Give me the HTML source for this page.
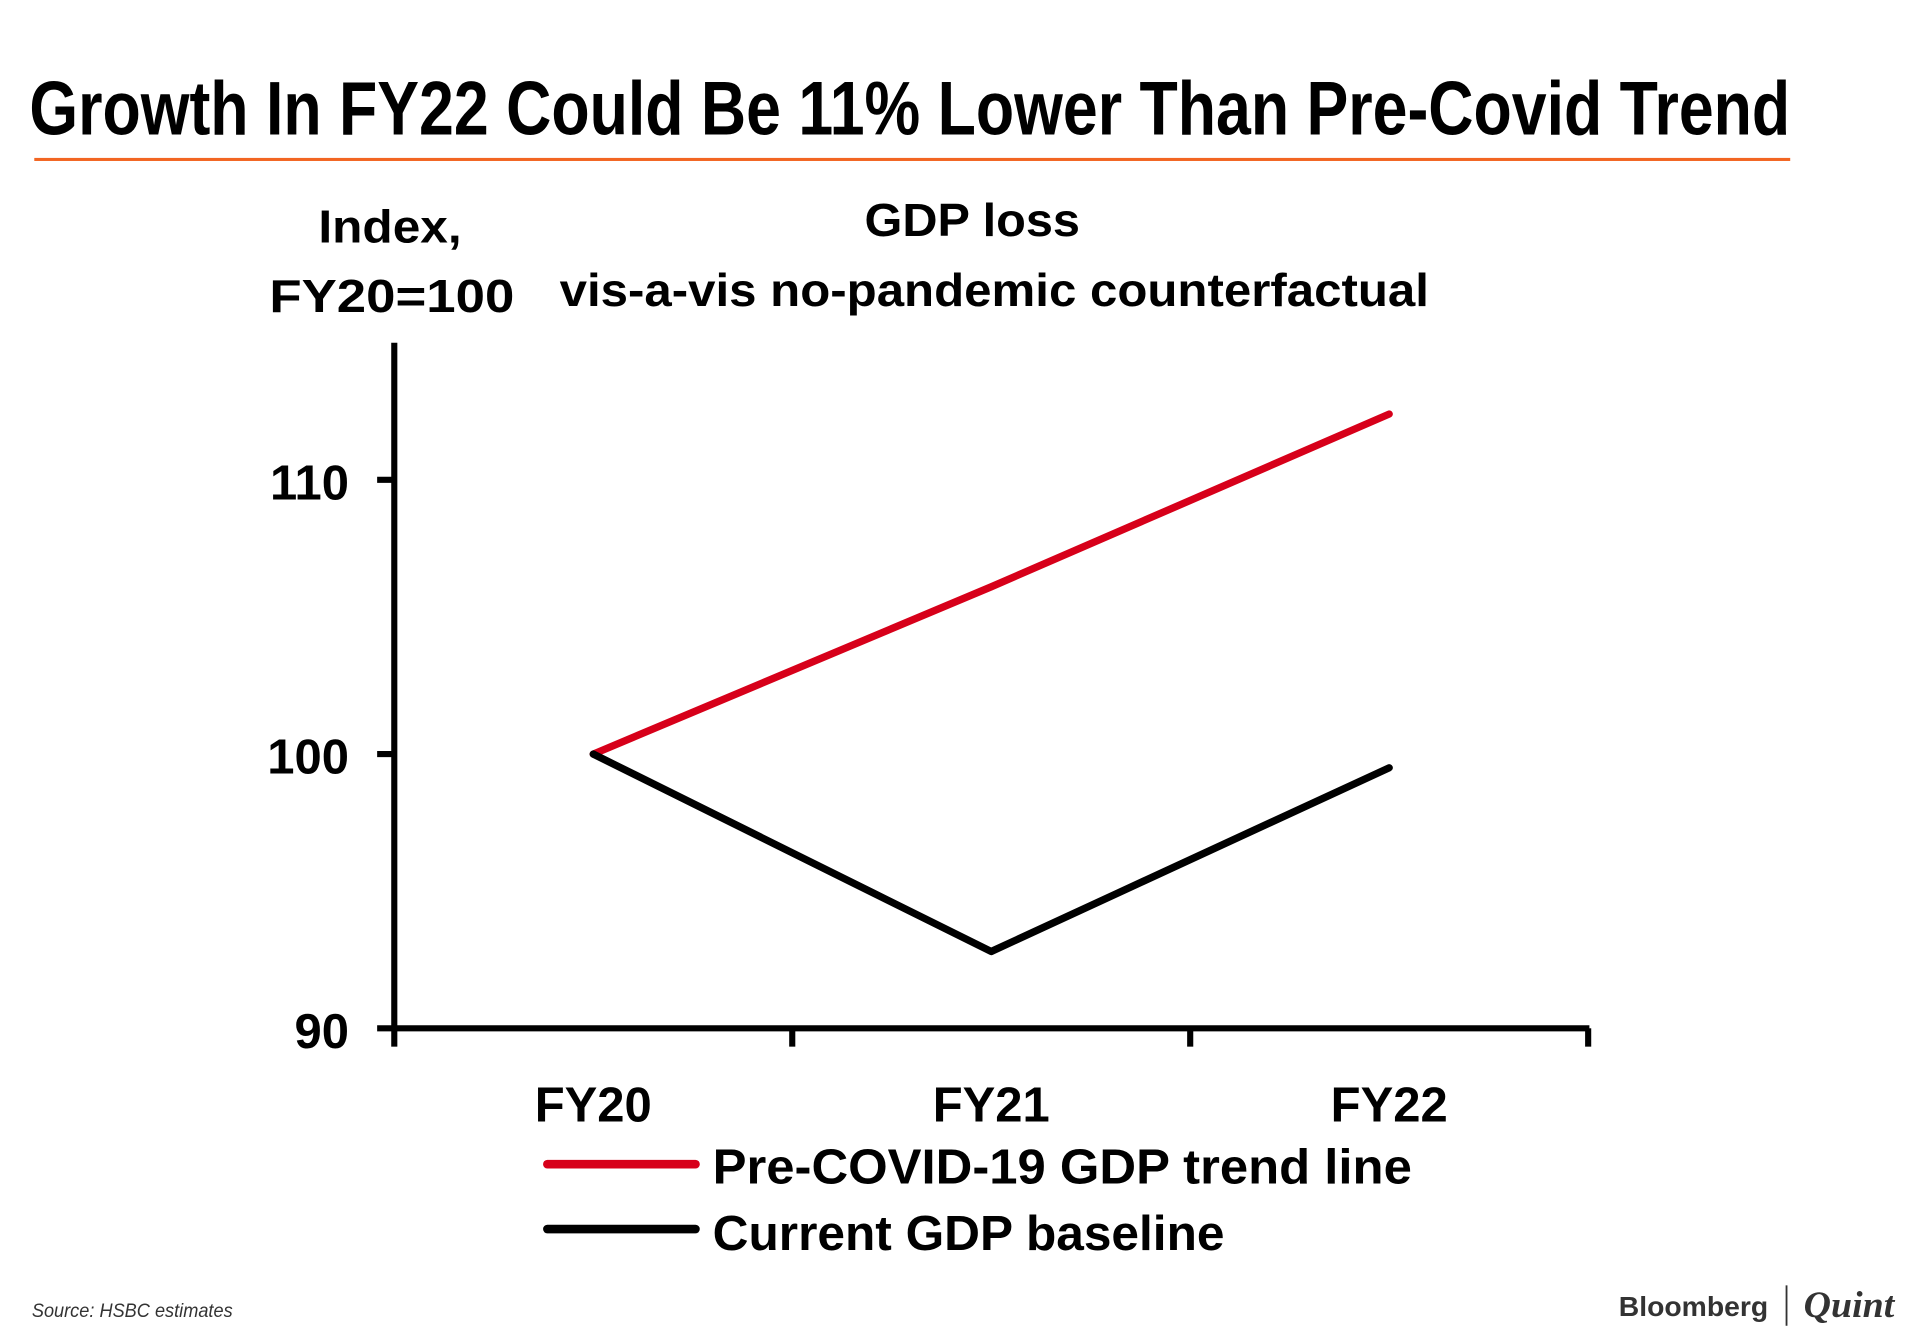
<!DOCTYPE html>
<html><head><meta charset="utf-8"><style>
html,body{margin:0;padding:0;background:#fff;}
svg{display:block;}
text{font-family:"Liberation Sans",sans-serif;font-weight:bold;fill:#000;}
</style></head><body>
<svg id="chart" width="1920" height="1338" viewBox="0 0 1568 1093" preserveAspectRatio="none" xmlns="http://www.w3.org/2000/svg">
<rect width="1568" height="1093" fill="#fff"/>
<text x="24" y="110" font-size="62" textLength="1438" lengthAdjust="spacingAndGlyphs">Growth In FY22 Could Be 11% Lower Than Pre-Covid Trend</text>
<rect x="28" y="129" width="1434" height="2.5" fill="#f26522"/>
<text x="260" y="198" font-size="38" textLength="117" lengthAdjust="spacingAndGlyphs">Index,</text>
<text x="220" y="255" font-size="38" textLength="200" lengthAdjust="spacingAndGlyphs">FY20=100</text>
<text x="706" y="193" font-size="38" textLength="176" lengthAdjust="spacingAndGlyphs">GDP loss</text>
<text x="457" y="250" font-size="38" textLength="710" lengthAdjust="spacingAndGlyphs">vis-a-vis no-pandemic counterfactual</text>
<g id="axes"></g>
<g id="marks"></g>
<line x1="447" y1="951" x2="568" y2="951" stroke="#d7001a" stroke-width="7" stroke-linecap="round"/>
<text x="582" y="967" font-size="40" textLength="571" lengthAdjust="spacingAndGlyphs">Pre-COVID-19 GDP trend line</text>
<line x1="447" y1="1004" x2="568" y2="1004" stroke="#000" stroke-width="7" stroke-linecap="round"/>
<text x="582" y="1021" font-size="40" textLength="418" lengthAdjust="spacingAndGlyphs">Current GDP baseline</text>
<text x="26" y="1076" font-size="16" font-weight="normal" font-style="italic" fill="#333" textLength="164" lengthAdjust="spacingAndGlyphs" style="font-weight:normal;fill:#333">Source: HSBC estimates</text>
<text x="1322" y="1075" font-size="23" fill="#333" textLength="122" lengthAdjust="spacingAndGlyphs" style="fill:#333">Bloomberg</text>
<line x1="1459" y1="1050" x2="1459" y2="1083" stroke="#333" stroke-width="1.5"/>
<text x="1473" y="1076" font-size="30" font-style="italic" textLength="74" lengthAdjust="spacingAndGlyphs" style="font-family:'Liberation Serif',serif;fill:#333">Quint</text>
</svg>
<script>
const categories = ["FY20","FY21","FY22"];
const trendValues = [100, 106.1, 112.4];
const baselineValues = [100, 92.8, 99.5];
const yTicks = [90, 100, 110];
const yTickLabels = ["90","100","110"];

const NS = "http://www.w3.org/2000/svg";
const xLeft = 322, xRight = 1297, yTop = 280, yBottom = 840;
function xScale(i){ return xLeft + (xRight - xLeft) * (i + 0.5) / categories.length; }
function yScale(v){ return 616 - (v - 100) * 22.4; }
function mk(tag, attrs, parent){ const e = document.createElementNS(NS, tag); for (const k in attrs) e.setAttribute(k, attrs[k]); parent.appendChild(e); return e; }

const axes = document.getElementById("axes");
const ya = mk("line", {x1:xLeft, y1:yTop, x2:xLeft, y2:yBottom+2, stroke:"#000", "stroke-width":5}, axes);


const xa = mk("line", {x1:xLeft-2, y1:yBottom, x2:xRight+1, y2:yBottom, stroke:"#000", "stroke-width":5}, axes);


yTicks.forEach((v, i) => {
  const y = yScale(v);
  const t = mk("line", {x1:xLeft-14, y1:y, x2:xLeft, y2:y, stroke:"#000", "stroke-width":5}, axes);
  
  
  const l = mk("text", {x:285, y:y+16, "font-size":40, "text-anchor":"end"}, axes);
  l.textContent = yTickLabels[i];
  
  
});
for (let i = 0; i <= categories.length; i++) {
  const x = xLeft + (xRight - xLeft) * i / categories.length;
  const t = mk("line", {x1:x, y1:yBottom, x2:x, y2:yBottom+15, stroke:"#000", "stroke-width":5}, axes);
  
  
}
categories.forEach((c, i) => {
  const l = mk("text", {x:xScale(i), y:916, "font-size":40, "text-anchor":"middle"}, axes);
  l.textContent = c;
  
  
});

const marks = document.getElementById("marks");
function pts(vals){ return vals.map((v, i) => xScale(i) + "," + yScale(v)).join(" "); }
const tl = mk("polyline", {points:pts(trendValues), fill:"none", stroke:"#d7001a", "stroke-width":6, "stroke-linejoin":"round", "stroke-linecap":"round"}, marks);


const bl = mk("polyline", {points:pts(baselineValues), fill:"none", stroke:"#000", "stroke-width":6, "stroke-linejoin":"round", "stroke-linecap":"round"}, marks);


</script>
</body></html>
